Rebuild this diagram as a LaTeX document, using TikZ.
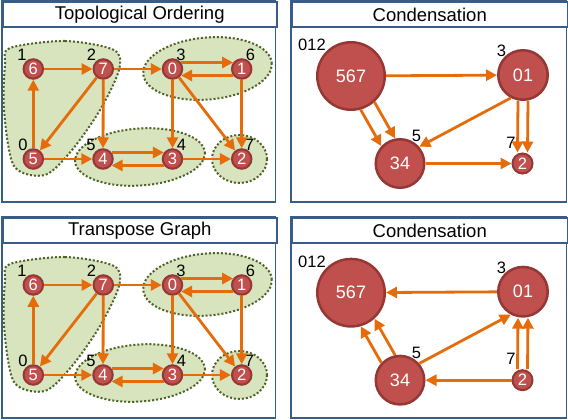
\documentclass[tikz,border=0pt]{standalone}
\usepackage{fontspec}
\setmainfont{Liberation Sans}
\usetikzlibrary{arrows.meta, shapes, positioning}

\definecolor{vtxred}{HTML}{C0504D}
\definecolor{vtxrim}{HTML}{953735}
\definecolor{flowline}{HTML}{E46C0A}
\definecolor{sccgreen}{HTML}{D7E4BD}
\definecolor{sccrim}{HTML}{4F6228}
\definecolor{panelblue}{HTML}{385D8A}

\tikzset{
  vtx/.style={circle, fill=vtxred, draw=vtxrim, line width=2pt, minimum size=19.5pt,
    inner sep=0pt, text=white, font=\fontsize{16.5}{16.5}\selectfont},
  bigvtx/.style={vtx, line width=2.5pt, font=\fontsize{18}{18}\selectfont},
  lbl/.style={inner sep=0pt, font=\fontsize{16.5}{16.5}\selectfont},
  flow/.style={draw=flowline, line width=2.8pt, -{Triangle[length=11pt,width=11pt]}},
  scc/.style={fill=sccgreen, draw=sccrim, line width=2pt, dotted},
  panel/.style={draw=panelblue, line width=1.2pt},
  titlebar/.style={draw=panelblue, line width=2pt, fill=white, anchor=north west,
    inner sep=0pt, minimum height=25pt, font=\fontsize{18.5}{18.5}\selectfont},
}

\begin{document}
\begin{tikzpicture}[x=1pt, y=-1pt]
  \useasboundingbox (0,0) rectangle (568,420);

  % panels
  \foreach \px/\py/\w/\ttl/\nm in {2/1/273.5/Topological Ordering/topo,
      291/1/275.5/Condensation/condA, 2/217/273.5/Transpose Graph/trans,
      291/217/275.5/Condensation/condB}{
    \draw[panel] (\px,\py) rectangle ++(\w,201);
    \node[titlebar, minimum width=\w pt] (\nm) at (\px,\py) {\ttl};
  }

  % graph and its transpose
  \foreach \p/\dy in {t/0, g/216}{
    \begin{scope}[shift={(0,\dy)}]
      \draw[scc] plot[smooth cycle] coordinates {(10,48) (65,41) (114,50) (119,70)
        (100,110) (72,150) (45,175) (14,166) (4,110) (5,65)};
      \draw[scc, rotate around={5:(207.5,68.5)}] (207.5,68.5) ellipse [x radius=64.5, y radius=31];
      \draw[scc, rotate around={4:(140,157)}] (140,157) ellipse [x radius=65, y radius=28.5];
      \draw[scc] (239.5,159) ellipse [x radius=27.5, y radius=24];

      \node[vtx] (\p6) at (33.3,69) {6};
      \node[vtx] (\p7) at (103.3,69) {7};
      \node[vtx] (\p0) at (172.5,69) {0};
      \node[vtx] (\p1) at (241.7,69) {1};
      \node[vtx] (\p5) at (33.3,159) {5};
      \node[vtx] (\p4) at (103,159) {4};
      \node[vtx] (\p3) at (172.5,159) {3};
      \node[vtx] (\p2) at (241.7,159) {2};

      \node[lbl] (\p6n) at (22,55) {1};
      \node[lbl] (\p7n) at (91.5,55) {2};
      \node[lbl] (\p0n) at (181,55) {3};
      \node[lbl] (\p1n) at (250.5,55) {6};
      \node[lbl] (\p5n) at (23,145) {0};
      \node[lbl] (\p4n) at (91,145) {5};
      \node[lbl] (\p3n) at (181.5,145) {4};
      \node[lbl] (\p2n) at (249.5,145) {7};

      \draw[flow] (\p6) -- (\p7);
      \draw[flow] (\p7) -- (\p0);
      \draw[flow] (\p0.37) -- (\p1.143);
      \draw[flow] (\p1.-143) -- (\p0.-37);
      \draw[flow] (\p7) -- (\p5);
      \draw[flow] (\p7) -- (\p4);
      \draw[flow] (\p5) -- (\p6);
      \draw[flow] (\p5) -- (\p4);
      \draw[flow] (\p4.37) -- (\p3.143);
      \draw[flow] (\p3.-143) -- (\p4.-37);
      \draw[flow] (\p3) -- (\p2);
      \draw[flow] (\p0) -- (\p3);
      \draw[flow] (\p0) -- (\p2);
      \draw[flow] (\p1) -- (\p2);
    \end{scope}
  }

  % condensations
  \foreach \p/\dy in {c/0, d/216.7}{
    \begin{scope}[shift={(0,\dy)}]
      \node[bigvtx, minimum size=67.5pt] (\p567) at (351,76) {567};
      \node[bigvtx, minimum size=49.5pt] (\p01) at (523,75) {01};
      \node[bigvtx, minimum size=48.5pt] (\p34) at (400,163.5) {34};
      \node[vtx, minimum size=20pt] (\p2) at (522.5,163.5) {2};

      \node[lbl] (\p567n) at (312,45) {012};
      \node[lbl] (\p01n) at (501.5,51) {3};
      \node[lbl] (\p34n) at (416.5,136) {5};
      \node[lbl] (\p2n) at (511,142.5) {7};
    \end{scope}
  }

  \draw[flow] (c567) -- (c01);
  \draw[flow] (c567.-74) -- (c34.137);
  \draw[flow] (c567.-48) -- (c34.101);
  \draw[flow] (c01.-118) -- (c34.41);
  \draw[flow] ([xshift=-5pt]c01.south) -- ([xshift=-5pt]c2.north);
  \draw[flow] ([xshift=5pt]c01.south) -- ([xshift=5pt]c2.north);
  \draw[flow] (c34) -- (c2);

  \draw[flow] (d01) -- (d567);
  \draw[flow] (d34.137) -- (d567.-74);
  \draw[flow] (d34.101) -- (d567.-48);
  \draw[flow] (d34.41) -- (d01.-118);
  \draw[flow] ([xshift=-5pt]d2.north) -- ([xshift=-5pt]d01.south);
  \draw[flow] ([xshift=5pt]d2.north) -- ([xshift=5pt]d01.south);
  \draw[flow] (d2) -- (d34);
\end{tikzpicture}
\end{document}
